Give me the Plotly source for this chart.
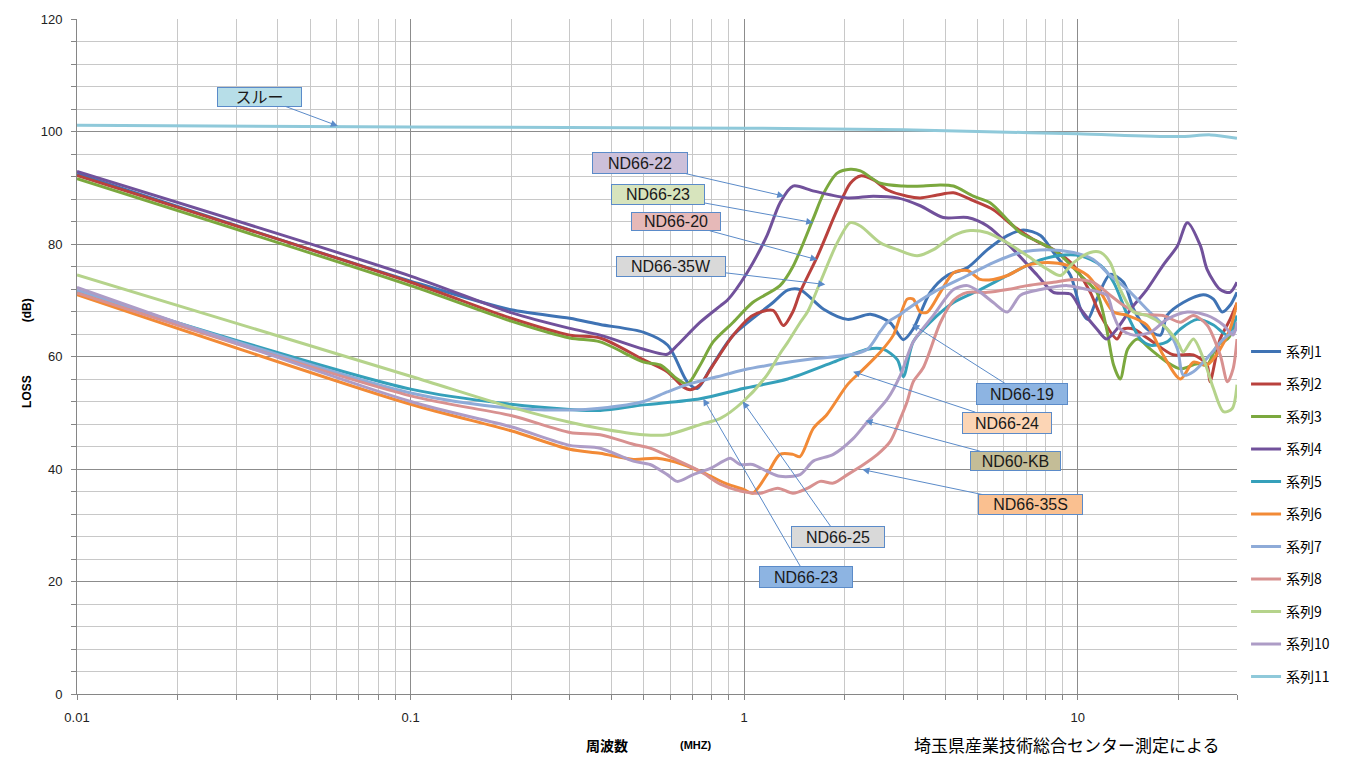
import math
import plotly.graph_objects as go

# ---------------- data (frequency in MHz, loss in dB) ----------------
f1 = [0.01, 0.1, 0.2, 0.3, 0.37, 0.5, 0.59, 0.675, 0.723, 0.791, 0.927, 1.22, 1.35, 1.47, 1.73, 2.04, 2.39, 2.74, 3.0, 3.21, 3.61, 4.06, 4.67, 5.36, 6.15, 6.87, 7.73, 8.45, 9.51, 10.2, 10.7, 11.4, 12.5, 13.7, 14.7, 16.1, 17.7, 18.5, 20.7, 23.8, 25.5, 27.1, 28.6, 30]
db1 = [92.5, 73.4, 68.3, 66.8, 65.7, 64.3, 62, 55.5, 54.3, 57.8, 63.8, 69.6, 71.8, 71.9, 68.4, 66.6, 67.5, 66, 63, 64.9, 71.4, 74.4, 75.8, 79, 81.5, 82.5, 81.5, 78.5, 74.4, 68.4, 66.6, 70.2, 74.6, 73.2, 68.4, 64.9, 63.8, 67.3, 69.6, 71, 70.2, 67.9, 69.1, 71.4]

f2 = [0.01, 0.1, 0.2, 0.3, 0.37, 0.5, 0.588, 0.656, 0.689, 0.738, 0.807, 0.927, 1.06, 1.22, 1.31, 1.40, 1.47, 1.66, 1.90, 2.08, 2.23, 2.44, 2.69, 3.08, 3.37, 3.79, 4.24, 4.86, 5.58, 6.41, 7.36, 8.45, 9.71, 10.9, 11.7, 13.1, 13.7, 14.7, 15.7, 16.8, 19.3, 22.2, 24.4, 24.9, 26.7, 28.6, 30]
db2 = [92.2, 73.2, 66.8, 63.8, 63.3, 59.4, 57.3, 54.6, 54.1, 55, 58.5, 63.8, 67.3, 68.2, 65.5, 68, 71.4, 77.9, 86.1, 90.8, 92.1, 91.4, 89.6, 88.5, 88.2, 88.7, 89.1, 87.7, 86.1, 83.2, 80.8, 79, 76.2, 71.4, 67.3, 63.1, 64.9, 64.9, 63.8, 62.6, 60.3, 60.3, 58.5, 55.5, 63.1, 66.6, 69.5]

f3 = [0.01, 0.1, 0.2, 0.3, 0.37, 0.5, 0.56, 0.63, 0.675, 0.738, 0.807, 0.927, 1.06, 1.28, 1.40, 1.61, 1.73, 1.90, 2.08, 2.23, 2.56, 3.0, 3.44, 3.87, 4.24, 4.86, 5.47, 6.15, 6.73, 7.73, 8.69, 10.2, 11.4, 12.2, 12.8, 13.4, 14.1, 15.1, 16.5, 18.5, 20.3, 22.8, 24.4, 26.2, 28.1, 30]
db3 = [91.6, 72.6, 66.3, 63.3, 62.6, 59, 58.5, 56, 55.1, 58.5, 62.6, 66.1, 69.6, 72.6, 76, 84.5, 89, 92.6, 93.3, 93, 90.8, 90.3, 90.3, 90.5, 90.3, 88.5, 87.3, 84.3, 82, 80.2, 78.5, 74.4, 71.4, 64.9, 58.5, 56, 61.3, 63.1, 61.3, 59, 57.8, 58.7, 58.5, 62, 63.1, 66]

f4 = [0.01, 0.1, 0.2, 0.3, 0.37, 0.5, 0.588, 0.63, 0.738, 0.848, 0.89, 1.02, 1.17, 1.28, 1.40, 1.62, 2.04, 2.44, 2.88, 3.37, 3.95, 4.67, 5.36, 6.41, 7.57, 8.45, 9.51, 10.2, 11.4, 12.2, 13.1, 14.4, 16.1, 18.0, 19.9, 21.3, 23.3, 24.4, 26.7, 28.6, 30]
db4 = [92.9, 74.3, 67.8, 65, 63.8, 61.3, 60.4, 62, 66.1, 69, 70, 74.9, 81.5, 87.3, 90.3, 89.4, 88.2, 88.5, 88.2, 86.8, 84.7, 84.7, 83.2, 79, 74.4, 71.4, 71.1, 68.4, 64.9, 63.1, 64.9, 68.4, 71.9, 76.2, 79.7, 83.8, 79.7, 75.5, 71.9, 71.4, 73.2]

f5 = [0.01, 0.1, 0.2, 0.3, 0.37, 0.5, 0.738, 0.993, 1.35, 1.85, 2.34, 2.61, 2.88, 3.0, 3.21, 3.61, 4.24, 5.10, 6.15, 7.36, 8.69, 10.2, 11.7, 12.8, 14.1, 15.4, 16.5, 18.5, 20.3, 22.8, 25.5, 28.1, 30]
db5 = [71.5, 54.2, 51.5, 50.6, 50.4, 51.4, 52.5, 54.3, 56, 59, 61.3, 61.3, 59.4, 56.4, 62.6, 66.1, 69.6, 71.9, 74.4, 76.7, 77.9, 77.9, 76.2, 73.2, 67.3, 63.1, 62, 62.6, 64.9, 66.6, 65.6, 63.8, 67.3]

f6 = [0.01, 0.1, 0.2, 0.3, 0.37, 0.465, 0.548, 0.656, 0.775, 0.89, 0.993, 1.06, 1.17, 1.28, 1.40, 1.47, 1.61, 1.77, 2.04, 2.28, 2.56, 2.80, 3.08, 3.21, 3.37, 3.54, 3.87, 4.24, 4.67, 5.10, 5.58, 6.15, 7.06, 8.11, 9.31, 10.7, 11.7, 12.8, 14.1, 16.1, 18.0, 20.3, 22.2, 24.4, 26.7, 28.6, 30]
db6 = [71, 51.5, 46.8, 43.5, 42.8, 41.7, 41.9, 40.8, 39, 37.3, 36.4, 35.7, 39, 42.6, 42.6, 42.2, 47.2, 49.7, 55, 57.8, 60.8, 63.8, 70.2, 70.2, 67.9, 67.9, 71.4, 74.9, 75.3, 73.7, 73.7, 74.4, 76.2, 76.7, 76.2, 74.4, 71.4, 67.9, 67.3, 65.6, 60.3, 56, 59, 58.5, 61.3, 64.9, 69.6]

f7 = [0.01, 0.1, 0.2, 0.3, 0.37, 0.5, 0.588, 0.675, 0.83, 0.993, 1.26, 1.61, 2.08, 2.34, 2.56, 2.69, 2.94, 3.08, 3.69, 4.67, 5.58, 6.73, 8.11, 9.71, 11.1, 12.5, 14.1, 16.1, 18.5, 19.9, 20.7, 22.2, 24.9, 27.3, 30]
db7 = [71.8, 53.5, 50.8, 50.5, 50.8, 52, 53.7, 55, 56.4, 57.6, 58.7, 59.6, 60.3, 61.3, 64.5, 66.1, 67.5, 68.4, 71.4, 74.4, 76.7, 78.5, 79, 78.5, 77.3, 74.4, 71.9, 68.4, 64.9, 61.3, 56.7, 57.3, 60.3, 63.1, 64.9]

f8 = [0.01, 0.1, 0.2, 0.3, 0.37, 0.465, 0.522, 0.612, 0.738, 0.848, 0.973, 1.12, 1.26, 1.40, 1.55, 1.69, 1.85, 2.04, 2.28, 2.51, 2.74, 2.94, 3.08, 3.21, 3.44, 3.87, 4.24, 4.67, 5.36, 6.15, 7.06, 8.45, 9.71, 11.1, 12.5, 13.7, 15.4, 18.0, 20.3, 22.2, 24.4, 26.7, 28.1, 29.2, 30]
db8 = [71.3, 53, 49.5, 46.5, 46.1, 44.4, 43.7, 41.9, 39.6, 37.3, 36.1, 35.7, 36.6, 35.7, 36.6, 37.8, 37.5, 39, 40.8, 42.6, 44.9, 49, 52, 55.5, 58, 66, 70, 71.4, 71.4, 71.9, 72.6, 73.2, 73.7, 73.2, 70.9, 69.1, 67.5, 67.3, 66.1, 67.3, 65.6, 60.3, 55.5, 57.8, 63.1]

f9 = [0.01, 0.1, 0.2, 0.3, 0.37, 0.498, 0.588, 0.738, 0.848, 0.993, 1.17, 1.28, 1.35, 1.47, 1.55, 1.69, 1.90, 2.08, 2.23, 2.56, 2.88, 3.30, 3.69, 4.24, 4.76, 5.36, 6.15, 7.06, 8.11, 8.87, 9.71, 10.9, 11.7, 12.5, 13.4, 14.7, 16.1, 18.0, 19.9, 20.7, 22.2, 23.8, 25.5, 27.3, 29.0, 30]
db9 = [74.5, 56.5, 51, 48.3, 47.2, 46.1, 46.1, 47.9, 49, 52, 56.7, 60.5, 62.5, 66, 68, 73.2, 80.2, 83.8, 83.2, 80.2, 79, 77.9, 79, 81.5, 82.4, 82, 80.2, 77.9, 75.5, 74.4, 76.7, 78.5, 78.5, 76.7, 71.9, 67.9, 67.3, 65.6, 62.6, 60.8, 63.1, 59.6, 54.3, 50.2, 50.7, 55]

f10 = [0.01, 0.1, 0.2, 0.3, 0.37, 0.465, 0.522, 0.588, 0.63, 0.703, 0.791, 0.866, 0.908, 0.973, 1.06, 1.17, 1.28, 1.47, 1.61, 1.85, 2.12, 2.34, 2.69, 2.94, 3.21, 3.69, 4.24, 4.67, 5.10, 5.58, 6.15, 6.73, 7.73, 9.31, 10.7, 12.2, 12.8, 13.4, 14.7, 16.5, 18.5, 21.3, 24.4, 27.3, 29.2, 30]
db10 = [72.3, 52, 47.5, 44.2, 43.7, 41.4, 40.8, 39, 37.8, 39, 40.1, 41.4, 41.9, 40.8, 40.8, 39.6, 38.7, 39, 41.4, 42.6, 45.4, 48.4, 52.5, 56.7, 62.6, 67.3, 71.9, 72.6, 71.4, 69.6, 67.9, 70.9, 71.9, 72.6, 71.9, 70.9, 67.3, 64.9, 63.8, 64.3, 66.6, 67.9, 67.3, 65.6, 63.8, 66.1]

f11 = [0.01, 0.1, 1, 3, 5, 10, 20, 25, 30]
db11 = [101.1, 100.8, 100.6, 100.3, 100.0, 99.6, 99.1, 99.4, 98.8]

series_names = ["系列1", "系列2", "系列3", "系列4", "系列5", "系列6",
                "系列7", "系列8", "系列9", "系列10", "系列11"]
series_f = [f1, f2, f3, f4, f5, f6, f7, f8, f9, f10, f11]
series_db = [db1, db2, db3, db4, db5, db6, db7, db8, db9, db10, db11]
colors = ['#3F73B4', '#B9413D', '#7BA83E', '#71519B', '#35A0BA', '#F28A36',
          '#8EABD8', '#D89190', '#B5D38B', '#AD9CC6', '#8FC9DA']

x_tick_vals = [0.01, 0.1, 1, 10]
x_tick_text = ["0.01", "0.1", "1", "10"]
y_tick_vals = [0, 20, 40, 60, 80, 100, 120]

# callout labels: text, arrow tip (MHz, dB)
label_text = ["スルー", "ND66-22", "ND66-23", "ND66-20", "ND66-35W", "ND66-19",
              "ND66-24", "ND60-KB", "ND66-35S", "ND66-25", "ND66-23"]
label_tip_f = [0.0605, 1.318, 1.61, 1.656, 1.75, 3.19, 2.12, 2.31, 2.26, 0.99, 0.754]
label_tip_db = [101.0, 88.5, 83.8, 77.2, 72.8, 65.7, 57.3, 48.6, 39.9, 52.0, 52.5]

# styling of the callouts (pixel offsets of box centre from tip, box size, fill)
label_style = [
    dict(ax=-78, ay=-29, w=83, h=18, bg='#B7DEE8'),
    dict(ax=-144, ay=-33, w=94, h=20, bg='#CCC0DA'),
    dict(ax=-155, ay=-28, w=92, h=19, bg='#D7E4BD'),
    dict(ax=-141, ay=-38, w=88, h=17, bg='#E6B9B8'),
    dict(ax=-154, ay=-18, w=108, h=19, bg='#D9D9D9'),
    dict(ax=110, ay=70, w=90, h=20, bg='#8DB4E2'),
    dict(ax=154, ay=51, w=88, h=20, bg='#FCD5B5'),
    dict(ax=150, ay=40, w=89, h=18, bg='#C4BD97'),
    dict(ax=168, ay=35, w=103, h=19, bg='#FAC090'),
    dict(ax=95, ay=135, w=92, h=20, bg='#D9D9D9'),
    dict(ax=103, ay=178, w=92, h=20, bg='#8DB4E2'),
]

# ---------------- figure ----------------
fig = go.Figure()
for i in range(11):
    fig.add_trace(go.Scatter(
        x=series_f[i], y=series_db[i], mode='lines', name=series_names[i],
        legendgroup=series_names[i],
        line=dict(color=colors[i], width=3, shape='spline', smoothing=0.8),
        hoverinfo='skip'))

annotations = []
for t, fx, dbv, st in zip(label_text, label_tip_f, label_tip_db, label_style):
    annotations.append(dict(
        x=math.log10(fx), y=dbv, xref='x', yref='y', text=t,
        showarrow=True, ax=st['ax'], ay=st['ay'],
        arrowhead=2, arrowsize=1.4, arrowwidth=1, arrowcolor='#5B8BC9',
        bgcolor=st['bg'], bordercolor='#5B8BC9', borderwidth=1, borderpad=0,
        width=st['w'], height=st['h'],
        font=dict(family='Liberation Sans, Noto Sans CJK JP', size=16, color='#1a1a1a')))

# axis titles and source note
annotations += [
    dict(x=-0.0509, y=0.449, xref='paper', yref='paper', text='<b>LOSS</b>', textangle=-90,
         showarrow=False, font=dict(family='Liberation Sans', size=12, color='#000')),
    dict(x=-0.0509, y=0.5685, xref='paper', yref='paper', text='<b>(dB)</b>', textangle=-90,
         showarrow=False, font=dict(family='Liberation Sans', size=12, color='#000')),
    dict(x=0.4569, y=-0.0751, xref='paper', yref='paper', text='<b>周波数</b>',
         xanchor='center', yanchor='middle',
         showarrow=False, font=dict(family='Noto Sans CJK JP', size=14, color='#000')),
    dict(x=0.5328, y=-0.0751, xref='paper', yref='paper', text='<b>(MHZ)</b>',
         xanchor='center', yanchor='middle',
         showarrow=False, font=dict(family='Liberation Sans Narrow, Liberation Sans', size=11, color='#000')),
    dict(x=0.7198, y=-0.0751, xref='paper', yref='paper', text='埼玉県産業技術総合センター測定による',
         xanchor='left', yanchor='middle', showarrow=False,
         font=dict(family='Noto Sans CJK JP', size=17, color='#000')),
]

fig.update_layout(
    width=1362, height=758,
    margin=dict(l=77, r=125, t=15, b=64),
    paper_bgcolor='white', plot_bgcolor='white',
    showlegend=True,
    legend=dict(x=1.0078, y=0.5305, xanchor='left', yanchor='top',
                font=dict(family='Noto Sans CJK JP', size=14, color='#000'),
                tracegroupgap=11.3, traceorder='grouped', bgcolor='rgba(0,0,0,0)'),
    annotations=annotations,
)

fig.update_xaxes(
    type='log', range=[math.log10(0.01), math.log10(30)],
    tickvals=x_tick_vals, ticktext=x_tick_text,
    showgrid=True, gridcolor='#8C8C8C', gridwidth=1,
    showline=True, linecolor='#868686', linewidth=1,
    ticks='outside', ticklen=5, tickcolor='#868686',
    tickfont=dict(family='Liberation Sans', size=13, color='#222'),
    ticklabelstandoff=6,
    minor=dict(dtick='D1', showgrid=True, gridcolor='#C8C8C8', gridwidth=1,
               ticks='outside', ticklen=5, tickcolor='#868686'),
    zeroline=False)

fig.update_yaxes(
    range=[0, 120], tickvals=y_tick_vals,
    showgrid=True, gridcolor='#8C8C8C', gridwidth=1,
    showline=True, linecolor='#868686', linewidth=1,
    ticks='outside', ticklen=5, tickcolor='#868686',
    tickfont=dict(family='Liberation Sans', size=13, color='#222'),
    ticklabelstandoff=6,
    minor=dict(dtick=4, showgrid=True, gridcolor='#C8C8C8', gridwidth=1,
               ticks='outside', ticklen=5, tickcolor='#868686'),
    zeroline=False)

fig.write_html("out.html", config={'displayModeBar': False},
               post_script="document.body.style.margin='0px';")
